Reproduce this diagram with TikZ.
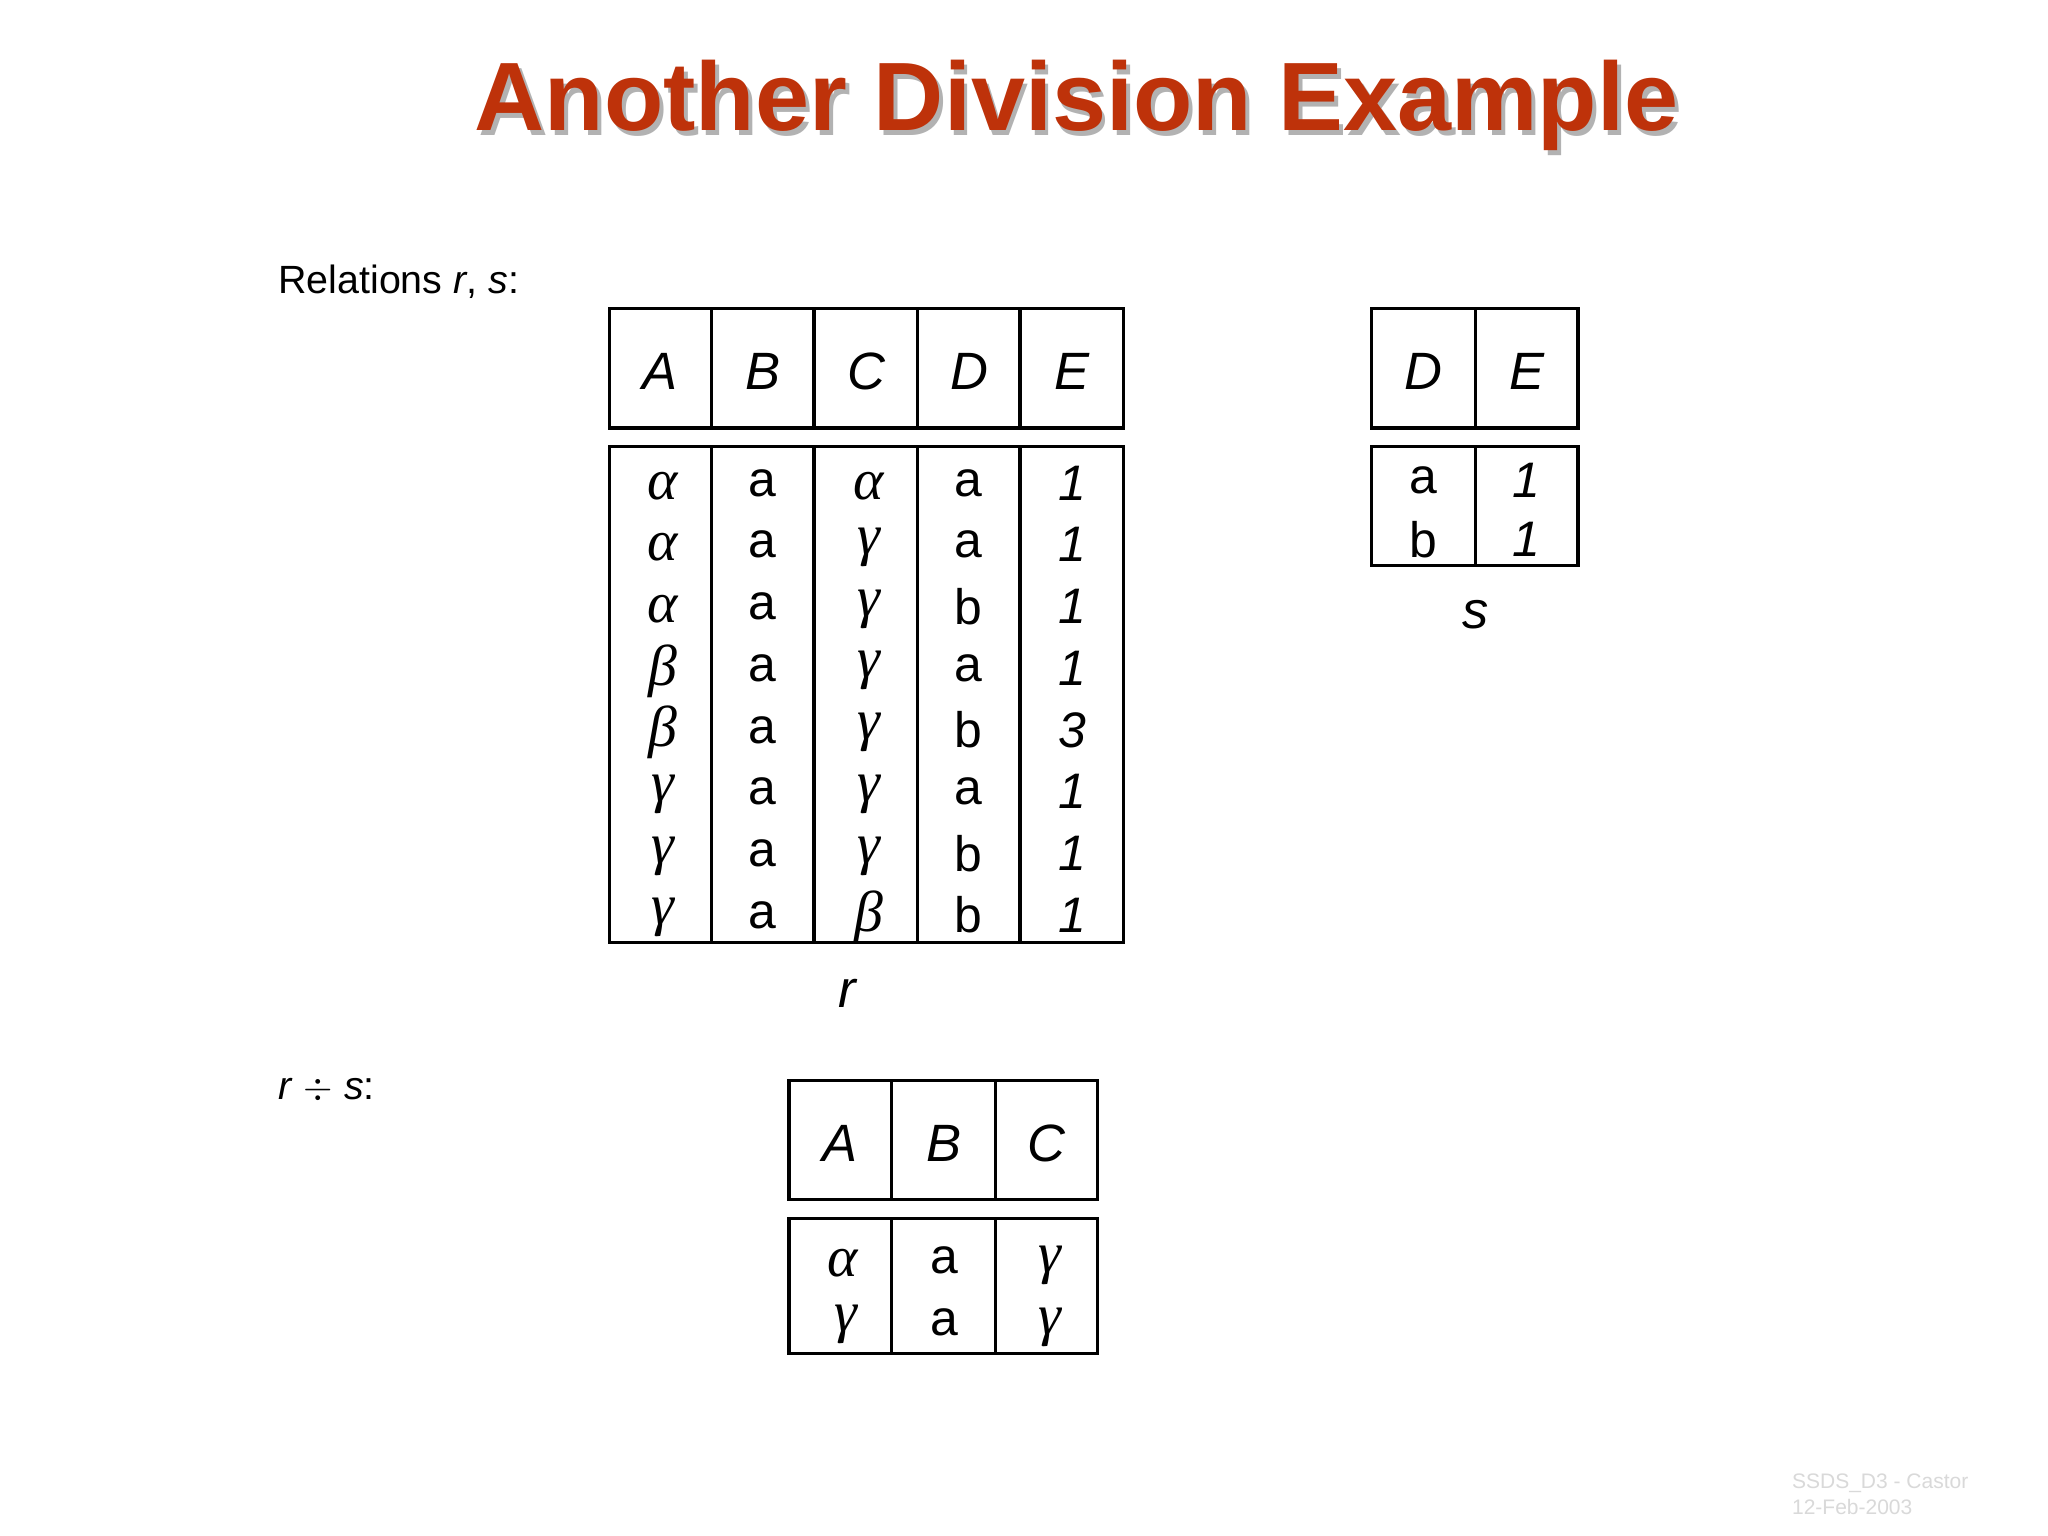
\documentclass[tikz,border=0pt]{standalone}
\usepackage{fontspec}
\setmainfont{Liberation Sans}
\setsansfont{Liberation Sans}
\newfontfamily\grk{Liberation Serif}
\begin{document}
\begin{tikzpicture}[x=0.5pt,y=-0.5pt,
  cell/.style={draw=black,line width=1.2pt},
  hdr/.style={font=\fontsize{20}{24}\selectfont\itshape},
  val/.style={font=\fontsize{19}{23}\selectfont},
  gv/.style={font=\fontsize{22}{26}\selectfont\grk\itshape},
  lbl/.style={font=\fontsize{15}{18}\selectfont,anchor=west}]
\useasboundingbox (0,0) rectangle (1560,1170);
\fill[white] (0,0) rectangle (1560,1170);
% title
\node[font=\fontsize{37}{44}\selectfont\bfseries,text=gray!60] (titlesh) at (823,84) {Another Division Example};
\node[font=\fontsize{37}{44}\selectfont\bfseries,text={rgb,255:red,190;green,50;blue,10}] (title) at (820,80) {Another Division Example};
\node[lbl] (rel) at (205,215) {Relations \textit{r}, \textit{s}:};
\node[lbl] (div) at (205,830) {\textit{r} $\div$ \textit{s}:};
% table r
\draw[cell] (464,235) rectangle (856,326);
\draw[cell] (464,340) rectangle (856,718);
\foreach \x in {542,620,699,777}{\draw[cell] (\x,235)--(\x,326); \draw[cell] (\x,340)--(\x,718);}
\foreach \t [count=\i from 0] in {A,B,C,D,E}{\node[hdr] (rh\i) at (503+78.4*\i,283) {\t};}
\foreach \a/\b/\c/\d/\e [count=\r from 0] in {α/a/α/a/1,α/a/γ/a/1,α/a/γ/b/1,β/a/γ/a/1,β/a/γ/b/3,γ/a/γ/a/1,γ/a/γ/b/1,γ/a/β/b/1}{
  \node[gv] (ra\r) at (505,370+47*\r) {\a};
  \node[val] (rb\r) at (581,368+47*\r) {\b};
  \node[gv] (rc\r) at (662,370+47*\r) {\c};
  \node[val] (rd\r) at (738,368+47*\r) {\d};
  \node[val] (re\r) at (817,368+47*\r) {\textit{\e}};
}
\node[hdr] (rname) at (645,757) {r};
% table s
\draw[cell] (1045,235) rectangle (1202,326);
\draw[cell] (1045,340) rectangle (1202,431);
\draw[cell] (1124,235)--(1124,326); \draw[cell] (1124,340)--(1124,431);
\node[hdr] (sd) at (1084,283) {D};
\node[hdr] (se) at (1163,283) {E};
\node[val] (s1) at (1084,366) {a};
\node[val] (s2) at (1163,366) {\textit{1}};
\node[val] (s3) at (1084,411) {b};
\node[val] (s4) at (1163,411) {\textit{1}};
\node[hdr] (sname) at (1124,468) {s};
% result
\draw[cell] (601,823) rectangle (836,914);
\draw[cell] (601,928) rectangle (836,1031);
\foreach \x in {679,758}{\draw[cell] (\x,823)--(\x,914); \draw[cell] (\x,928)--(\x,1031);}
\node[hdr] (qa) at (640,871) {A};
\node[hdr] (qb) at (719,871) {B};
\node[hdr] (qc) at (797,871) {C};
\node[gv] (q1) at (642,962) {α};
\node[val] (q2) at (719,960) {a};
\node[gv] (q3) at (800,964) {γ};
\node[gv] (q4) at (644,1009) {γ};
\node[val] (q5) at (719,1007) {a};
\node[gv] (q6) at (800,1011) {γ};
\node[font=\fontsize{8}{10}\selectfont,text=gray!30,align=left,anchor=west] (foot) at (1358,1138) {SSDS\_D3 - Castor\\12-Feb-2003};
\end{tikzpicture}
\end{document}
